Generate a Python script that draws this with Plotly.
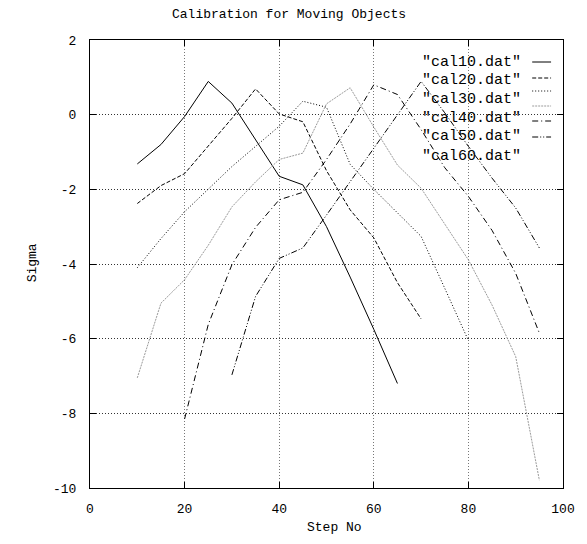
import plotly.graph_objects as go

# ---- data ----
x10 = [10, 15, 20, 25, 30, 35, 40, 45, 50, 55, 60, 65]
cal10 = [-1.32, -0.80, -0.05, 0.89, 0.31, -0.67, -1.65, -1.88, -3.00, -4.35, -5.75, -7.20]

x20 = [10, 15, 20, 25, 30, 35, 40, 45, 50, 55, 60, 65, 70]
cal20 = [-2.38, -1.90, -1.58, -0.85, -0.10, 0.69, 0.02, -0.19, -1.50, -2.55, -3.30, -4.50, -5.47]

x30 = [10, 15, 20, 25, 30, 35, 40, 45, 50, 55, 60, 65, 70, 75, 80]
cal30 = [-4.10, -3.32, -2.60, -2.00, -1.39, -0.85, -0.31, 0.36, 0.20, -1.33, -2.00, -2.63, -3.26, -4.65, -6.05]

x40 = [10, 15, 20, 25, 30, 35, 40, 45, 50, 55, 60, 65, 70, 75, 80, 85, 90, 95]
cal40 = [-7.05, -5.05, -4.42, -3.50, -2.47, -1.80, -1.20, -1.03, 0.29, 0.72, -0.33, -1.35, -1.97, -2.92, -3.89, -5.10, -6.48, -9.79]

x50 = [20, 25, 30, 35, 40, 45, 50, 55, 60, 65, 70, 75, 80, 85, 90, 95]
cal50 = [-8.15, -5.62, -4.02, -3.02, -2.28, -2.08, -1.20, -0.25, 0.80, 0.54, -0.40, -1.42, -2.19, -3.10, -4.25, -5.85]

x60 = [30, 35, 40, 45, 50, 55, 60, 65, 70, 75, 80, 85, 90, 95]
cal60 = [-6.97, -4.87, -3.85, -3.57, -2.69, -1.80, -0.92, -0.03, 0.89, 0.05, -0.85, -1.70, -2.50, -3.57]

names = ['"cal10.dat"', '"cal20.dat"', '"cal30.dat"', '"cal40.dat"', '"cal50.dat"', '"cal60.dat"']
xs = [x10, x20, x30, x40, x50, x60]
ys = [cal10, cal20, cal30, cal40, cal50, cal60]

x_ticks = [0, 20, 40, 60, 80, 100]
y_ticks = [-10, -8, -6, -4, -2, 0, 2]

# ---- styles ----
colors = ["#000000", "#000000", "#000000", "#9a9a9a", "#000000", "#000000"]
dashes = ["solid", "4px,2px", "1px,2px", "2px,1px", "6px,3px,1px,3px", "6px,2px,1px,2px,1px,2px"]

FONT = "Liberation Mono"
OFF = 8                      # page body margin of the html
W, H = 587 - OFF, 544 - OFF
# plot area in page pixels: x 90..566, y 40..488
PX0, PX1, PY0, PY1 = 90, 566, 40, 488
L, T = PX0 - OFF, PY0 - OFF
R, B = W + OFF - PX1, H + OFF - PY1
PW, PH = PX1 - PX0, PY1 - PY0


def px(X):
    return (X - PX0) / PW


def py(Y):
    return (PY1 - Y) / PH


fig = go.Figure()
for nm, xv, yv, c, d in zip(names, xs, ys, colors, dashes):
    fig.add_trace(go.Scatter(x=xv, y=yv, mode="lines", name=nm,
                             line=dict(color=c, width=1, dash=d),
                             showlegend=False))

# gnuplot-style key: text right-aligned, sample to its right
text_rows = [62, 81, 100, 118, 137, 156]
sample_rows = [62, 78, 91, 106, 121, 137]
for i, nm in enumerate(names):
    fig.add_annotation(xref="paper", yref="paper", x=px(526), y=py(text_rows[i]),
                       text=nm, showarrow=False, xanchor="right", yanchor="middle",
                       font=dict(family=FONT, size=15, color="#000"))
    yy = py(sample_rows[i])
    fig.add_shape(type="line", xref="paper", yref="paper",
                  x0=px(535), x1=px(554), y0=yy, y1=yy,
                  line=dict(color=colors[i], width=1, dash=dashes[i]))

fig.add_annotation(xref="paper", yref="paper", x=px(336), y=py(527),
                   text="Step No", showarrow=False, xanchor="center", yanchor="middle",
                   font=dict(family=FONT, size=13, color="#000"))
fig.add_annotation(xref="paper", yref="paper", x=px(33), y=py(263),
                   text="Sigma", showarrow=False, xanchor="center", yanchor="middle",
                   textangle=-90, font=dict(family=FONT, size=13, color="#000"))
fig.add_annotation(xref="paper", yref="paper", x=px(290), y=py(14),
                   text="Calibration for Moving Objects", showarrow=False,
                   xanchor="center", yanchor="middle",
                   font=dict(family=FONT, size=13, color="#000"))

axis_common = dict(showline=True, linecolor="#000", linewidth=1, mirror="ticks",
                   ticks="inside", ticklen=6, tickcolor="#000", tickwidth=1,
                   showgrid=True, griddash="1px,2px", gridwidth=1,
                   zeroline=False, tickfont=dict(family=FONT, size=13, color="#000"))

fig.update_xaxes(range=[0, 100], tickvals=x_ticks, ticktext=[str(v) for v in x_ticks],
                 ticklabelstandoff=8, gridcolor="#777777", **axis_common)
fig.update_yaxes(range=[-10, 2], tickvals=y_ticks, ticktext=[str(v) for v in y_ticks],
                 ticklabelstandoff=10, gridcolor="#333333", **axis_common)

fig.update_layout(
    width=W, height=H,
    margin=dict(l=L, r=R, t=T, b=B),
    paper_bgcolor="white", plot_bgcolor="white",
    showlegend=False,
)

fig.write_html("out.html")
